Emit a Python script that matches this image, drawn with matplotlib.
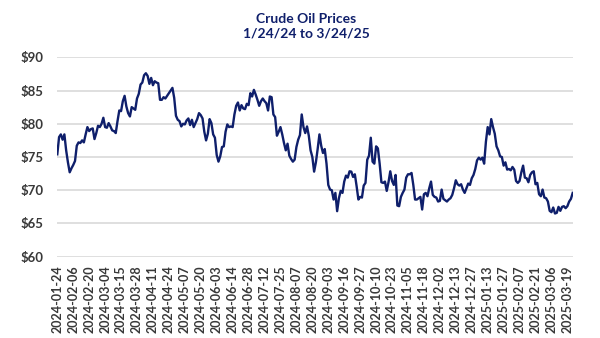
import numpy as np
import matplotlib.pyplot as plt

# daily crude oil prices (trading days 2024-01-24 .. 2025-03-24)
prices = [
    75.4, 78.0, 78.4, 77.6, 78.4, 76.0, 74.2, 72.7, 73.3, 73.8,
    74.4, 76.7, 77.2, 77.1, 77.5, 77.2, 78.4, 79.5, 78.9, 79.2,
    79.3, 77.7, 78.6, 79.7, 79.5, 80.0, 80.9, 79.5, 79.4, 80.1,
    79.6, 79.0, 78.9, 78.6, 80.4, 82.0, 81.9, 83.4, 84.2, 82.6,
    81.6, 81.1, 82.5, 82.3, 82.1, 83.8, 84.5, 85.9, 86.2, 87.3,
    87.6, 87.2, 86.0, 86.9, 85.8, 86.4, 86.2, 86.1, 83.6, 83.6,
    84.0, 83.8, 84.2, 84.6, 85.0, 85.4, 83.9, 81.2, 80.6, 80.4,
    79.6, 80.0, 79.9, 80.5, 80.8, 79.8, 80.6, 79.5, 80.1, 80.7,
    81.6, 81.3, 80.8, 78.8, 77.5, 78.5, 80.7, 80.1, 78.4, 77.9,
    75.3, 74.3, 75.1, 76.5, 76.6, 78.8, 79.9, 79.5, 79.6, 79.5,
    81.4, 82.7, 83.2, 82.0, 82.8, 82.3, 82.2, 83.0, 82.8, 84.6,
    84.1, 85.1, 84.4, 83.6, 82.7, 83.4, 83.8, 83.4, 83.1, 82.0,
    84.1, 84.0, 81.4, 81.0, 78.2, 78.8, 79.5, 78.4, 77.1, 76.0,
    77.0, 75.2, 74.7, 74.3, 74.6, 76.5, 77.6, 78.3, 81.4, 79.5,
    78.6, 79.6, 78.2, 76.0, 75.0, 72.8, 74.2, 76.2, 78.4, 76.7,
    75.6, 76.2, 74.0, 70.8, 70.1, 70.0, 68.6, 69.6, 66.85, 68.8,
    69.9, 69.6, 71.3, 72.2, 71.9, 72.85, 72.8, 72.0, 72.4, 70.6,
    68.6, 69.0, 68.9, 70.7, 71.1, 74.6, 75.2, 77.9, 74.3, 74.0,
    76.6, 76.3, 74.0, 71.2, 71.1, 71.3, 69.9, 71.2, 72.85, 71.4,
    70.8, 72.3, 67.7, 67.6, 69.0, 69.6, 70.1, 71.9, 72.4, 72.4,
    72.6, 70.8, 68.6, 68.6, 68.8, 69.0, 67.1, 69.4, 69.6, 69.1,
    70.3, 71.3, 69.3, 69.0, 68.9, 68.3, 68.4, 70.1, 68.7, 68.5,
    68.3, 68.6, 68.8, 69.3, 70.3, 71.5, 70.9, 70.7, 70.9, 70.1,
    69.6, 70.3, 71.0, 70.8, 71.8, 72.3, 73.2, 74.5, 74.9, 74.6,
    74.9, 74.0, 77.3, 79.5, 78.4, 80.7, 79.5, 78.5, 76.6, 76.0,
    75.1, 75.0, 73.7, 74.2, 73.1, 73.2, 73.0, 73.5, 73.1, 71.4,
    71.1, 71.4, 72.7, 73.7, 71.9, 71.8, 71.2, 72.3, 72.7, 72.85,
    70.9, 71.1, 69.4, 69.1, 70.1, 68.9, 68.8, 68.3, 66.9, 66.7,
    67.4, 66.5, 66.6, 67.5, 66.9, 67.5, 67.6, 67.3, 67.6, 68.3,
    68.7, 69.6,
]

tick_labels = [
    "2024-01-24", "2024-02-06", "2024-02-20", "2024-03-04", "2024-03-15",
    "2024-03-28", "2024-04-11", "2024-04-24", "2024-05-07", "2024-05-20",
    "2024-06-03", "2024-06-14", "2024-06-28", "2024-07-12", "2024-07-25",
    "2024-08-07", "2024-08-20", "2024-09-03", "2024-09-16", "2024-09-27",
    "2024-10-10", "2024-10-23", "2024-11-05", "2024-11-18", "2024-12-02",
    "2024-12-13", "2024-12-27", "2025-01-13", "2025-01-27", "2025-02-07",
    "2025-02-21", "2025-03-06", "2025-03-19",
]
tick_every = 9

y_ticks = [60, 65, 70, 75, 80, 85, 90]

navy = '#0f1f6b'
label_color = '#383838'
plt.rcParams['font.family'] = ['Lato', 'DejaVu Sans']

fig = plt.figure(figsize=(6, 3.38), dpi=100)
ax = fig.add_axes([0.0955, 0.2405, 0.859, 0.59])

x = np.arange(len(prices))
ax.plot(x, prices, color=navy, lw=1.7, solid_joinstyle='round')

ax.set_xlim(0, len(prices) - 1)
ax.set_ylim(60, 90)
ax.set_yticks(y_ticks)
ax.set_yticklabels(['$%d' % v for v in y_ticks])
ax.set_xticks(np.arange(len(tick_labels)) * tick_every)
ax.set_xticklabels(tick_labels, rotation=90)

ax.grid(axis='y', color='#d9d9d9', lw=1.2)
ax.set_axisbelow(True)
for s in ax.spines.values():
    s.set_visible(False)
ax.tick_params(axis='y', length=0, pad=10, labelsize=9.5, labelcolor=label_color)
ax.tick_params(axis='x', length=0, pad=6, labelsize=9, labelcolor=label_color)
for lab in ax.get_xticklabels() + ax.get_yticklabels():
    lab.set_fontweight('bold')

fig.text(0.51, 0.945, 'Crude Oil Prices', ha='center', va='center',
         fontsize=10, fontweight='bold', color=navy)
fig.text(0.51, 0.9, '1/24/24 to 3/24/25', ha='center', va='center',
         fontsize=10, fontweight='bold', color=navy)

fig.savefig('out.png', dpi=100)
